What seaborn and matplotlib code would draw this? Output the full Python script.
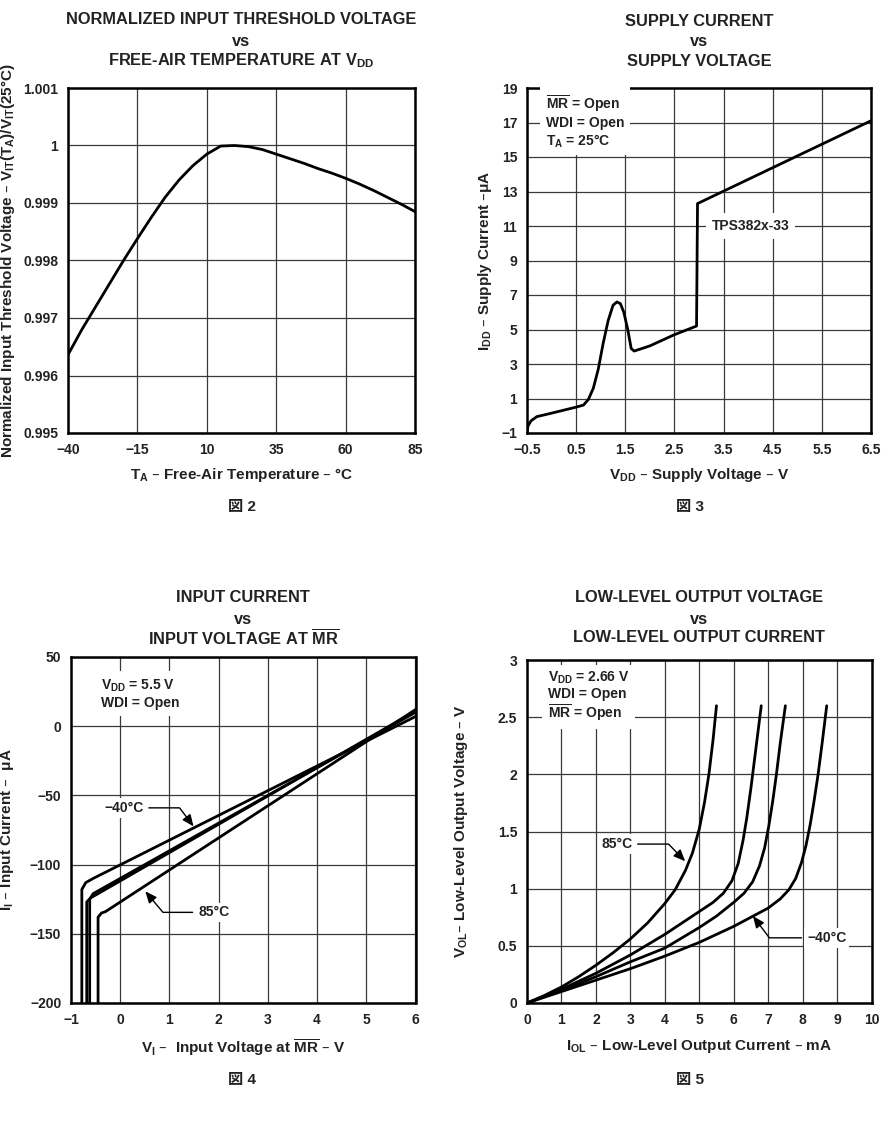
import numpy as np
import pandas as pd
import matplotlib
matplotlib.use('Agg')
import matplotlib.pyplot as plt
import seaborn as sns
from matplotlib.ticker import FuncFormatter

# ---------------- data ----------------
# Fig 2: normalized input threshold voltage vs temperature
temp_c = [-40, -35, -30, -25, -20, -15, -10, -5, 0, 5, 10, 15, 20, 25, 30, 35,
          40, 45, 50, 55, 60, 65, 70, 75, 80, 85]
norm_vit = [0.99636, 0.99680, 0.99720, 0.99760, 0.99800, 0.99838, 0.99875,
            0.99910, 0.99940, 0.99965, 0.99985, 0.99999, 1.00000, 0.99998,
            0.99993, 0.99985, 0.99977, 0.99969, 0.99960, 0.99952, 0.99943,
            0.99933, 0.99922, 0.99910, 0.99898, 0.99885]

# Fig 3: supply current vs supply voltage
vdd_v = [-0.5, -0.48, -0.42, -0.3, 0.0, 0.5, 0.65, 0.75, 0.85, 0.95, 1.05,
         1.15, 1.25, 1.33, 1.40, 1.47, 1.55, 1.62, 1.68, 2.0, 2.5, 2.95, 2.97, 6.5]
idd_ua = [-1.0, -0.6, -0.3, -0.05, 0.15, 0.5, 0.62, 0.95, 1.6, 2.7, 4.2,
          5.5, 6.4, 6.6, 6.5, 6.0, 5.0, 3.9, 3.75, 4.05, 4.7, 5.2, 12.3, 17.1]

# Fig 4: input current vs input voltage at MR
vi_m40 = [-0.78, -0.78, -0.70, -0.55, 6.0]
ii_m40 = [-200, -118, -113, -110, 7]
vi_a = [-0.62, -0.62, -0.55, -0.40, 6.0]
ii_a = [-200, -125, -121, -118, 10]
vi_b = [-0.68, -0.68, -0.60, -0.45, 6.0]
ii_b = [-200, -127, -124, -121, 11]
vi_85 = [-0.45, -0.45, -0.38, -0.30, 6.0]
ii_85 = [-200, -138, -135, -134, 12]

# Fig 5: low-level output voltage vs low-level output current
iol_85 = [0, 0.5, 1, 1.5, 2, 2.5, 3, 3.5, 4, 4.3, 4.6, 4.8, 5.0, 5.15, 5.28, 5.4, 5.5]
vol_85 = [0, 0.065, 0.14, 0.23, 0.33, 0.44, 0.56, 0.70, 0.87, 0.99, 1.16, 1.31,
          1.52, 1.75, 2.0, 2.3, 2.6]
iol_b = [0, 1, 2, 3, 4, 5, 5.4, 5.7, 5.95, 6.13, 6.27, 6.38, 6.5, 6.6, 6.7, 6.8]
vol_b = [0, 0.12, 0.26, 0.42, 0.60, 0.80, 0.88, 0.96, 1.07, 1.22, 1.42, 1.62,
         1.88, 2.12, 2.36, 2.6]
iol_c = [0, 1, 2, 3, 4, 5, 5.5, 6.0, 6.3, 6.55, 6.75, 6.9, 7.02, 7.13, 7.24, 7.35, 7.5]
vol_c = [0, 0.11, 0.23, 0.36, 0.48, 0.66, 0.76, 0.88, 0.96, 1.06, 1.2, 1.36,
         1.55, 1.76, 2.0, 2.27, 2.6]
iol_m40 = [0, 1, 2, 3, 4, 5, 6, 6.5, 7, 7.35, 7.6, 7.8, 7.97, 8.1, 8.22, 8.33,
           8.45, 8.57, 8.7]
vol_m40 = [0, 0.10, 0.20, 0.30, 0.41, 0.53, 0.67, 0.75, 0.83, 0.91, 0.99, 1.09,
           1.23, 1.38, 1.56, 1.76, 2.0, 2.28, 2.6]

# ---------------- style ----------------
sns.set_theme(style='white')
plt.rcParams['font.family'] = ['Liberation Sans', 'Noto Sans CJK JP', 'DejaVu Sans']
plt.rcParams['font.weight'] = 'bold'
plt.rcParams['axes.labelweight'] = 'bold'
plt.rcParams['mathtext.default'] = 'regular'
TXT = '#222222'
TFS = 11.8   # title size
LFS = 11     # axis label size
KFS = 10     # tick / note size

W, H = 893, 1130
fig = plt.figure(figsize=(W / 100, H / 100), dpi=100)


def add_ax(l, r, t, b):
    return fig.add_axes([l / W, 1 - b / H, (r - l) / W, (b - t) / H])


def fmt(v, p):
    return ('%g' % v).replace('-', '\u2212')


def style(ax, xlim, ylim, xticks, yticks):
    ax.set_xlim(xlim)
    ax.set_ylim(ylim)
    ax.set_xticks(xticks)
    ax.set_yticks(yticks)
    ax.grid(True, color='#3a3a3a', lw=0.9)
    ax.set_axisbelow(True)
    for s in ax.spines.values():
        s.set_linewidth(1.8)
        s.set_color('black')
    ax.tick_params(length=0, labelsize=KFS, pad=7, colors=TXT)
    ax.xaxis.set_major_formatter(FuncFormatter(fmt))
    ax.yaxis.set_major_formatter(FuncFormatter(fmt))


def titles(ax, lines, ys, top):
    hgt = ax.get_position().height * H
    for line, y in zip(lines, ys):
        ax.text(0.5, 1 + (top - y) / hgt, line, transform=ax.transAxes,
                ha='center', va='center', fontsize=TFS, fontweight='bold', color=TXT)


def labels(ax, xl, yl, xpos, ypos):
    ax.set_xlabel(xl, fontsize=LFS, color=TXT)
    ax.set_ylabel(yl, fontsize=LFS, color=TXT)
    ax.xaxis.set_label_coords(0.5, xpos)
    ax.yaxis.set_label_coords(ypos, 0.5)


lw = 2.0
box = dict(facecolor='white', edgecolor='none', pad=2)
arrow = dict(arrowstyle='-|>,head_length=0.7,head_width=0.3', color='black', lw=1.0,
             shrinkA=2, shrinkB=0)

# ---- Fig 2 ----
ax1 = add_ax(68, 415, 88, 433)
sns.lineplot(x=temp_c, y=norm_vit, ax=ax1, color='black', lw=lw, sort=False, estimator=None)
style(ax1, (-40, 85), (0.995, 1.001), [-40, -15, 10, 35, 60, 85],
      [0.995, 0.996, 0.997, 0.998, 0.999, 1.0, 1.001])
titles(ax1, ['NORMALIZED INPUT THRESHOLD VOLTAGE', 'vs',
             'FREE-AIR TEMPERATURE AT V$_{DD}$'], [20, 41, 61], 88)
labels(ax1, 'T$_A$ \u2013 Free-Air Temperature \u2013 \u00b0C',
       'Normalized Input Threshold Voltage \u2013 V$_{IT}$(T$_A$)/V$_{IT}$(25\u00b0C)',
       -0.096, -0.148)

# ---- Fig 3 ----
ax2 = add_ax(527, 871, 88, 433)
sns.lineplot(x=vdd_v, y=idd_ua, ax=ax2, color='black', lw=lw, sort=False, estimator=None)
style(ax2, (-0.5, 6.5), (-1, 19), np.arange(-0.5, 6.6, 1.0), np.arange(-1, 20, 2))
titles(ax2, ['SUPPLY CURRENT', 'vs', 'SUPPLY VOLTAGE'], [21, 42, 62], 88)
labels(ax2, 'V$_{DD}$ \u2013 Supply Voltage \u2013 V',
       'I$_{DD}$ \u2013 Supply Current \u2013\u03bcA', -0.096, -0.096)
ax2.text(0.055, 0.985, '$\\overline{MR}$ = Open\nWDI = Open\nT$_A$ = 25\u00b0C',
         transform=ax2.transAxes, ha='left', va='top', fontsize=KFS, color=TXT,
         linespacing=1.2, bbox=dict(facecolor='white', edgecolor='none', pad=4))
ax2.text(4.05, 11, 'TPS382x-33', ha='center', va='center', fontsize=KFS, color=TXT,
         bbox=dict(facecolor='white', edgecolor='none', pad=4))

# ---- Fig 4 ----
ax3 = add_ax(71, 415.5, 657, 1003)
df3 = pd.DataFrame({
    'v': vi_m40 + vi_a + vi_b + vi_85,
    'i': ii_m40 + ii_a + ii_b + ii_85,
    's': ['-40'] * len(vi_m40) + ['a'] * len(vi_a) + ['b'] * len(vi_b) + ['85'] * len(vi_85),
})
sns.lineplot(data=df3, x='v', y='i', hue='s', palette=['black'] * 4, ax=ax3,
             lw=lw, sort=False, estimator=None, legend=False)
style(ax3, (-1, 6), (-200, 50), np.arange(-1, 7, 1), np.arange(-200, 51, 50))
titles(ax3, ['INPUT CURRENT', 'vs', 'INPUT VOLTAGE AT $\\overline{MR}$'], [598, 619, 638], 657)
labels(ax3, 'V$_I$ \u2013  Input Voltage at $\\overline{MR}$ \u2013 V',
       'I$_I$ \u2013 Input Current \u2013  \u03bcA', -0.1, -0.16)
ax3.text(0.087, 0.94, 'V$_{DD}$ = 5.5 V\nWDI = Open', transform=ax3.transAxes,
         ha='left', va='top', fontsize=KFS, color=TXT, linespacing=1.2,
         bbox=dict(facecolor='white', edgecolor='none', pad=4))
ax3.annotate('\u221240\u00b0C', xy=(1.49, -72.4), xytext=(0.07, -59), ha='center', va='center',
             fontsize=KFS, color=TXT, bbox=box,
             arrowprops=dict(arrow, connectionstyle='angle,angleA=0,angleB=-53,rad=0'))
ax3.annotate('85\u00b0C', xy=(0.51, -119.3), xytext=(1.9, -134.5), ha='center', va='center',
             fontsize=KFS, color=TXT, bbox=box,
             arrowprops=dict(arrow, connectionstyle='angle,angleA=0,angleB=-50,rad=0'))

# ---- Fig 5 ----
ax4 = add_ax(527, 871.5, 660, 1003)
df4 = pd.DataFrame({
    'i': iol_85 + iol_b + iol_c + iol_m40,
    'v': vol_85 + vol_b + vol_c + vol_m40,
    's': ['85'] * len(iol_85) + ['b'] * len(iol_b) + ['c'] * len(iol_c) + ['-40'] * len(iol_m40),
})
sns.lineplot(data=df4, x='i', y='v', hue='s', palette=['black'] * 4, ax=ax4,
             lw=lw, sort=False, estimator=None, legend=False)
style(ax4, (0, 10), (0, 3), np.arange(0, 11, 1), np.arange(0, 3.01, 0.5))
titles(ax4, ['LOW-LEVEL OUTPUT VOLTAGE', 'vs', 'LOW-LEVEL OUTPUT CURRENT'], [598, 619, 638], 660)
labels(ax4, 'I$_{OL}$ \u2013 Low-Level Output Current \u2013 mA',
       'V$_{OL}$\u2013 Low-Level Output Voltage \u2013 V', -0.1, -0.166)
ax4.text(0.061, 0.972, 'V$_{DD}$ = 2.66 V\nWDI = Open\n$\\overline{MR}$ = Open',
         transform=ax4.transAxes, ha='left', va='top', fontsize=KFS, color=TXT,
         linespacing=1.1, bbox=dict(facecolor='white', edgecolor='none', pad=4))
ax4.annotate('85\u00b0C', xy=(4.59, 1.24), xytext=(2.6, 1.39), ha='center', va='center',
             fontsize=KFS, color=TXT, bbox=box,
             arrowprops=dict(arrow, connectionstyle='angle,angleA=0,angleB=-46,rad=0'))
ax4.annotate('\u221240\u00b0C', xy=(6.56, 0.76), xytext=(8.7, 0.57), ha='center', va='center',
             fontsize=KFS, color=TXT, bbox=box,
             arrowprops=dict(arrow, connectionstyle='angle,angleA=0,angleB=-53,rad=0'))

# captions
for x, y, s in [(242, 507, '\u56f3 2'), (690, 507, '\u56f3 3'),
                (242, 1080, '\u56f3 4'), (690, 1080, '\u56f3 5')]:
    fig.text(x / W, 1 - y / H, s, ha='center', va='center', fontsize=11,
             fontweight='bold', color=TXT)

fig.savefig('out.png', dpi=100)
